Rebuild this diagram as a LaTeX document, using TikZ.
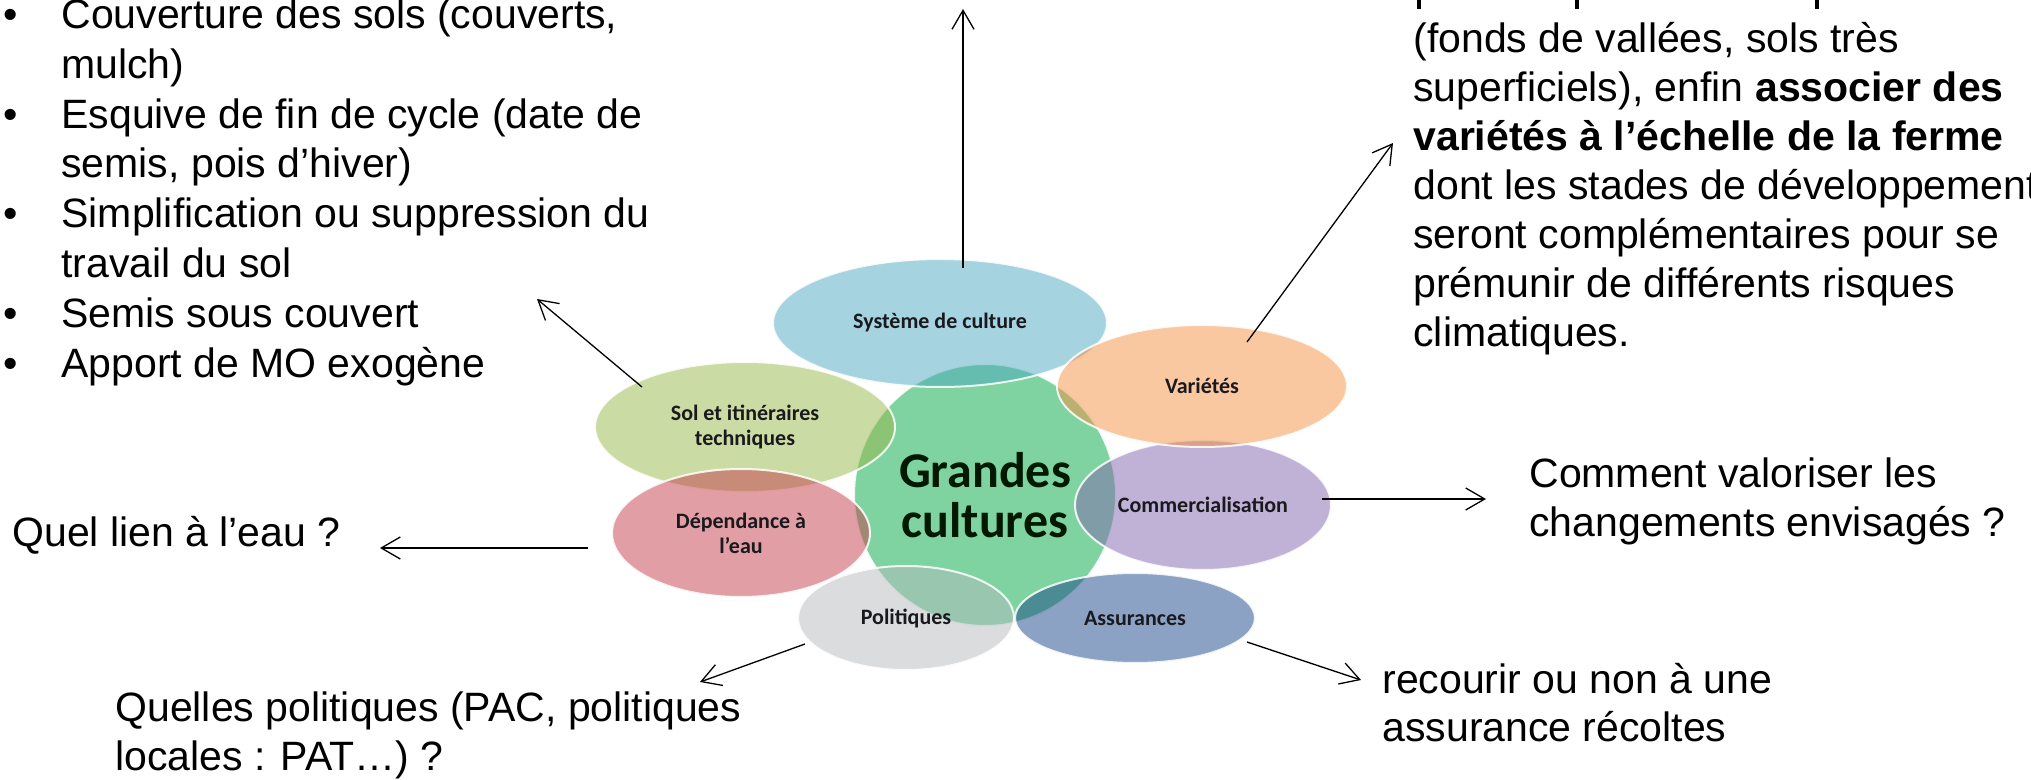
\documentclass[tikz,border=0pt]{standalone}
\usepackage{fontspec}
\setmainfont{Liberation Sans}
\newfontfamily\calib{Carlito}
\usetikzlibrary{shapes.geometric,arrows.meta}
\definecolor{cGreen}{RGB}{0,167,65}
\definecolor{cSys}{RGB}{77,167,193}
\definecolor{cSol}{RGB}{151,183,73}
\definecolor{cVar}{RGB}{243,143,65}
\definecolor{cCom}{RGB}{129,101,173}
\definecolor{cDep}{RGB}{197,61,75}
\definecolor{cPol}{RGB}{181,185,189}
\definecolor{cAss}{RGB}{25,69,137}
\definecolor{lbl}{RGB}{25,25,30}
\begin{document}
\begin{tikzpicture}[x=0.5pt,y=-0.5pt,
  txt/.style={anchor=base west, inner sep=0pt, font=\fontsize{20.5pt}{24.9pt}\selectfont},
  blob/.style={ellipse, inner sep=0pt, fill opacity=0.5, text opacity=1,
    draw=white, draw opacity=0.85, line width=1pt, align=center, text=lbl,
    font=\calib\bfseries\fontsize{11pt}{12.5pt}\selectfont},
  conn/.style={-{Straight Barb[length=9.5pt,width=11pt]}, line width=0.65pt, black}
]
\useasboundingbox (0,0) rectangle (2031,780);

% ---- central diagram ----
\node[blob, fill=cGreen, minimum width=131pt, minimum height=131pt,
      font=\calib\bfseries\fontsize{25pt}{25pt}\selectfont, text=black!90!green] (gc) at (985,495) {Grandes\\cultures};
\node[blob, fill=cSys, minimum width=167pt, minimum height=64pt] (sys) at (940,323) {Système de culture};
\node[blob, fill=cCom, minimum width=128pt, minimum height=65pt] (com) at (1203,505) {Commercialisation};
\node[blob, fill=cVar, minimum width=145pt, minimum height=61pt] (var) at (1202,386) {Variétés};
\node[blob, fill=cAss, minimum width=120pt, minimum height=45pt] (ass) at (1135,618) {Assurances};
\node[blob, fill=cPol, minimum width=108pt, minimum height=52pt] (pol) at (906,618) {Politiques};
\node[blob, fill=cSol, minimum width=150pt, minimum height=65pt] (sol) at (745,427) {Sol et itinéraires\\techniques};
\node[blob, fill=cDep, minimum width=129pt, minimum height=64pt] (dep) at (741,533) {Dépendance à\\l’eau};

% ---- left bullet list ----
\foreach \n/\y in {b1/28.5, b2/128.1, b3/227.7, b4/327.3, b5/377.1}
  \node[txt] (\n) at (3,\y) {•};
\node[txt] (l1) at (61,28.5)  {Couverture des sols (couverts,};
\node[txt] (l2) at (61,78.3)  {mulch)};
\node[txt] (l3) at (61,128.1) {Esquive de fin de cycle (date de};
\node[txt] (l4) at (61,177.9) {semis, pois d’hiver)};
\node[txt] (l5) at (61,227.7) {Simplification ou suppression du};
\node[txt] (l6) at (61,277.5) {travail du sol};
\node[txt] (l7) at (61,327.3) {Semis sous couvert};
\node[txt] (l8) at (61,377.1) {Apport de MO exogène};

% ---- top right text ----
\fill (1417,0) rectangle (1421,9);
\fill (1575,0) rectangle (1579,9);
\fill (1815,0) rectangle (1819,9);
\node[txt] (r1) at (1413,53)  {(fonds de vallées, sols très};
\node[txt] (r2) at (1413,102) {superficiels), enfin \textbf{associer des}};
\node[txt] (r3) at (1413,151) {\textbf{variétés à l’échelle de la ferme}};
\node[txt] (r4) at (1413,200) {dont les stades de développement};
\node[txt] (r5) at (1413,249) {seront complémentaires pour se};
\node[txt] (r6) at (1413,298) {prémunir de différents risques};
\node[txt] (r7) at (1413,347) {climatiques.};

% ---- other texts ----
\node[txt] (eau) at (12,547) {Quel lien à l’eau ?};
\node[txt] (c1) at (1529,488) {Comment valoriser les};
\node[txt] (c2) at (1529,537) {changements envisagés ?};
\node[txt] (a1) at (1382,693) {recourir ou non à une};
\node[txt] (a2) at (1382,741) {assurance récoltes};
\node[txt] (p1) at (115,721) {Quelles politiques (PAC, politiques};
\node[txt] (p2) at (115,770) {locales : PAT…) ?};

% ---- connectors ----
\coordinate (sysT) at (963,268);  \coordinate (sysH) at (963,9);
\coordinate (solT) at (642,387);  \coordinate (solH) at (537,299);
\coordinate (varT) at (1247,342); \coordinate (varH) at (1393,143);
\coordinate (depT) at (588,548);  \coordinate (depH) at (380,548);
\coordinate (comT) at (1322,499); \coordinate (comH) at (1486,499);
\coordinate (polT) at (805,644);  \coordinate (polH) at (700,682);
\coordinate (assT) at (1247,642); \coordinate (assH) at (1361,680);
\draw[conn] (sysT) -- (sysH);
\draw[conn] (solT) -- (solH);
\draw[conn] (varT) -- (varH);
\draw[conn] (depT) -- (depH);
\draw[conn] (comT) -- (comH);
\draw[conn] (polT) -- (polH);
\draw[conn] (assT) -- (assH);
\end{tikzpicture}
\end{document}
